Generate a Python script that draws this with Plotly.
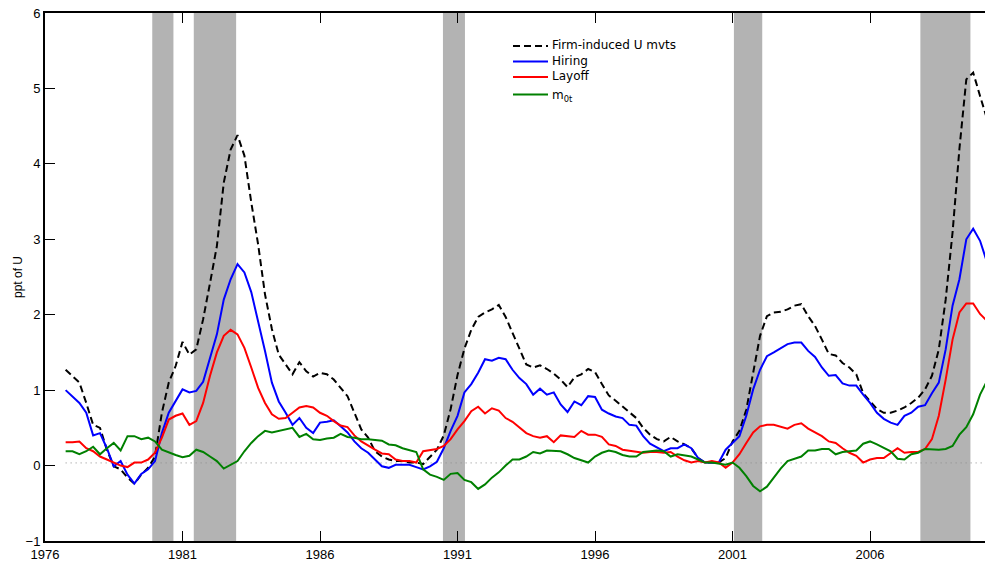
import plotly.graph_objects as go

start_year = 1976.75
n_q = 135
dates = [start_year + 0.25 * i for i in range(n_q)]

firm_induced = [1.27,
    1.19, 1.10, 0.83, 0.54,
    0.50, 0.21, -0.01, -0.05,
    -0.16, -0.24, -0.12, -0.03,
    0.12, 0.70, 1.10, 1.32,
    1.64, 1.47, 1.54, 1.94,
    2.42, 2.91, 3.75, 4.19,
    4.38, 4.11, 3.49, 2.93,
    2.27, 1.81, 1.47, 1.34,
    1.21, 1.37, 1.25, 1.18,
    1.23, 1.21, 1.14, 1.03,
    0.92, 0.70, 0.48, 0.37,
    0.19, 0.12, 0.08, 0.06,
    0.06, 0.04, 0.04, 0.02,
    0.12, 0.21, 0.40, 0.75,
    1.20, 1.55, 1.80, 1.97,
    2.03, 2.07, 2.13, 1.97,
    1.76, 1.54, 1.34, 1.30,
    1.33, 1.28, 1.22, 1.14,
    1.04, 1.17, 1.21, 1.28,
    1.24, 1.08, 0.93, 0.86,
    0.78, 0.70, 0.63, 0.50,
    0.41, 0.35, 0.32, 0.38,
    0.32, 0.28, 0.23, 0.10,
    0.04, 0.04, 0.04, 0.10,
    0.32, 0.46, 0.74, 1.23,
    1.72, 1.98, 2.03, 2.04,
    2.07, 2.12, 2.14, 1.98,
    1.85, 1.67, 1.48, 1.46,
    1.36, 1.30, 1.21, 0.96,
    0.85, 0.75, 0.70, 0.70,
    0.73, 0.77, 0.83, 0.90,
    1.01, 1.19, 1.54, 2.20,
    3.09, 4.20, 5.12, 5.21,
    4.90, 4.60]

hiring = [1.00,
    0.92, 0.83, 0.70, 0.40,
    0.43, 0.23, -0.01, 0.06,
    -0.12, -0.24, -0.11, -0.05,
    0.06, 0.43, 0.70, 0.85,
    1.01, 0.97, 0.99, 1.11,
    1.41, 1.74, 2.20, 2.47,
    2.67, 2.56, 2.30, 1.92,
    1.52, 1.10, 0.85, 0.70,
    0.54, 0.63, 0.50, 0.43,
    0.57, 0.58, 0.60, 0.52,
    0.44, 0.32, 0.23, 0.17,
    0.08, -0.01, -0.03, 0.01,
    0.01, 0.01, -0.02, -0.05,
    -0.01, 0.05, 0.23, 0.46,
    0.66, 0.97, 1.08, 1.23,
    1.41, 1.39, 1.43, 1.41,
    1.27, 1.16, 1.08, 0.94,
    1.02, 0.94, 0.97, 0.81,
    0.71, 0.85, 0.80, 0.92,
    0.91, 0.74, 0.69, 0.65,
    0.63, 0.54, 0.53, 0.39,
    0.29, 0.24, 0.19, 0.23,
    0.23, 0.28, 0.23, 0.10,
    0.04, 0.04, 0.04, 0.21,
    0.30, 0.39, 0.66, 1.01,
    1.27, 1.45, 1.50, 1.55,
    1.61, 1.63, 1.63, 1.52,
    1.44, 1.30, 1.19, 1.20,
    1.09, 1.06, 1.06, 0.94,
    0.83, 0.70, 0.62, 0.57,
    0.54, 0.66, 0.70, 0.78,
    0.80, 0.96, 1.10, 1.54,
    2.12, 2.47, 3.00, 3.14,
    2.98, 2.70]

layoff = [0.31,
    0.31, 0.32, 0.23, 0.19,
    0.12, 0.08, 0.04, 0.00,
    -0.02, 0.04, 0.04, 0.08,
    0.17, 0.37, 0.61, 0.66,
    0.69, 0.54, 0.59, 0.83,
    1.19, 1.50, 1.72, 1.80,
    1.74, 1.56, 1.30, 1.03,
    0.83, 0.68, 0.62, 0.63,
    0.70, 0.77, 0.79, 0.77,
    0.70, 0.66, 0.59, 0.53,
    0.51, 0.40, 0.32, 0.26,
    0.21, 0.16, 0.15, 0.08,
    0.06, 0.06, 0.04, 0.19,
    0.21, 0.22, 0.26, 0.35,
    0.48, 0.59, 0.72, 0.78,
    0.69, 0.76, 0.73, 0.63,
    0.58, 0.50, 0.43, 0.39,
    0.37, 0.39, 0.31, 0.40,
    0.39, 0.38, 0.46, 0.41,
    0.41, 0.38, 0.28, 0.26,
    0.21, 0.20, 0.19, 0.17,
    0.18, 0.18, 0.17, 0.18,
    0.12, 0.07, 0.04, 0.06,
    0.04, 0.06, 0.04, -0.03,
    0.04, 0.15, 0.30, 0.44,
    0.52, 0.54, 0.54, 0.52,
    0.49, 0.54, 0.56, 0.49,
    0.44, 0.39, 0.32, 0.30,
    0.23, 0.17, 0.13, 0.04,
    0.08, 0.10, 0.10, 0.17,
    0.23, 0.17, 0.18, 0.18,
    0.22, 0.35, 0.66, 1.14,
    1.67, 2.03, 2.15, 2.15,
    2.01, 1.92]

m0t = [0.19,
    0.19, 0.15, 0.19, 0.25,
    0.15, 0.23, 0.30, 0.20,
    0.39, 0.39, 0.35, 0.37,
    0.32, 0.21, 0.17, 0.14,
    0.11, 0.13, 0.21, 0.18,
    0.12, 0.06, -0.04, 0.01,
    0.06, 0.19, 0.30, 0.39,
    0.46, 0.44, 0.46, 0.49,
    0.50, 0.38, 0.42, 0.35,
    0.34, 0.36, 0.37, 0.42,
    0.38, 0.37, 0.35, 0.35,
    0.34, 0.33, 0.28, 0.27,
    0.23, 0.21, 0.18, -0.05,
    -0.12, -0.15, -0.19, -0.11,
    -0.10, -0.19, -0.22, -0.31,
    -0.25, -0.16, -0.09, 0.00,
    0.08, 0.08, 0.12, 0.18,
    0.16, 0.20, 0.19, 0.19,
    0.15, 0.10, 0.07, 0.04,
    0.12, 0.17, 0.20, 0.18,
    0.14, 0.12, 0.12, 0.18,
    0.19, 0.20, 0.19, 0.12,
    0.15, 0.13, 0.12, 0.08,
    0.04, 0.04, 0.03, 0.01,
    0.04, -0.03, -0.14, -0.27,
    -0.34, -0.28, -0.16, -0.04,
    0.06, 0.09, 0.12, 0.20,
    0.20, 0.22, 0.22, 0.15,
    0.18, 0.19, 0.20, 0.29,
    0.32, 0.28, 0.23, 0.19,
    0.09, 0.08, 0.15, 0.17,
    0.22, 0.21, 0.21, 0.22,
    0.26, 0.41, 0.51, 0.68,
    0.94, 1.12]

reference_level = 0.035

recession_starts = [1979.9, 1981.41, 1990.47, 2001.05, 2007.83]
recession_ends = [1980.67, 1982.95, 1991.27, 2002.08, 2009.65]

x_tick_vals = [1976, 1981, 1986, 1991, 1996, 2001, 2006]
y_tick_vals = [-1, 0, 1, 2, 3, 4, 5, 6]

series_names = ["Firm-induced U mvts", "Hiring", "Layoff", "m<sub>0t</sub>"]
series_values = [firm_induced, hiring, layoff, m0t]
series_colors = ["black", "#0000ff", "#ff0000", "#008000"]
series_dashes = ["7px,4px", "solid", "solid", "solid"]

FONT = "Liberation Sans, Arial, sans-serif"
LEGEND_FONT = "DejaVu Sans, sans-serif"

W, H = 985, 562
ML, MR, MT, MB = 45, 0, 13, 21
PW, PH = W - ML - MR, H - MT - MB


def px_to_paper_x(px):
    return (px - ML) / PW


def px_to_paper_y(py):
    return (H - MB - py) / PH


fig = go.Figure()

fig.add_trace(go.Scatter(
    x=[dates[0], dates[-1]], y=[reference_level, reference_level],
    mode="lines", line=dict(color="#8c8c8c", width=1, dash="1px,4px"),
    showlegend=False, hoverinfo="skip"))

for name, vals, col, dash in zip(series_names, series_values, series_colors, series_dashes):
    fig.add_trace(go.Scatter(x=dates, y=vals, mode="lines", name=name,
                             showlegend=False,
                             line=dict(color=col, width=2, dash=dash)))

for s, e in zip(recession_starts, recession_ends):
    fig.add_shape(type="rect", xref="x", yref="paper", x0=s, x1=e, y0=0, y1=1,
                  fillcolor="#b3b3b3", line=dict(width=0), layer="below")

# hand-built legend (key lines + labels)
legend_rows_px = [46, 61.5, 77, 94.5]
for name, col, dash, py in zip(series_names, series_colors, series_dashes, legend_rows_px):
    yp = px_to_paper_y(py)
    fig.add_shape(type="line", xref="paper", yref="paper",
                  x0=px_to_paper_x(513), x1=px_to_paper_x(548), y0=yp, y1=yp,
                  line=dict(color=col, width=2, dash=dash))
    ty = px_to_paper_y(py - 0.5) if "sub" not in name else px_to_paper_y(py + 1.5)
    fig.add_annotation(xref="paper", yref="paper", x=px_to_paper_x(550), y=ty,
                       xanchor="left", yanchor="middle", showarrow=False,
                       text=name, font=dict(family=LEGEND_FONT, size=12, color="black"))

fig.update_layout(
    width=W, height=H,
    margin=dict(l=ML, r=MR, t=MT, b=MB),
    paper_bgcolor="white", plot_bgcolor="white",
    font=dict(family=FONT, size=13, color="black"),
    showlegend=False,
)

fig.update_xaxes(range=[1976, 2010.18], tickvals=x_tick_vals,
                 ticktext=[str(v) for v in x_tick_vals],
                 ticks="inside", ticklen=10, tickwidth=1, tickcolor="black",
                 showline=True, linecolor="black", linewidth=2,
                 mirror="ticks", showgrid=False, zeroline=False,
                 tickfont=dict(size=13))
fig.update_yaxes(range=[-1, 6], tickvals=y_tick_vals,
                 ticks="inside", ticklen=10, tickwidth=1, tickcolor="black",
                 showline=True, linecolor="black", linewidth=2,
                 showgrid=False, zeroline=False,
                 title=dict(text="ppt of U", font=dict(size=12), standoff=0),
                 tickfont=dict(size=13))

fig.write_html("out.html")
